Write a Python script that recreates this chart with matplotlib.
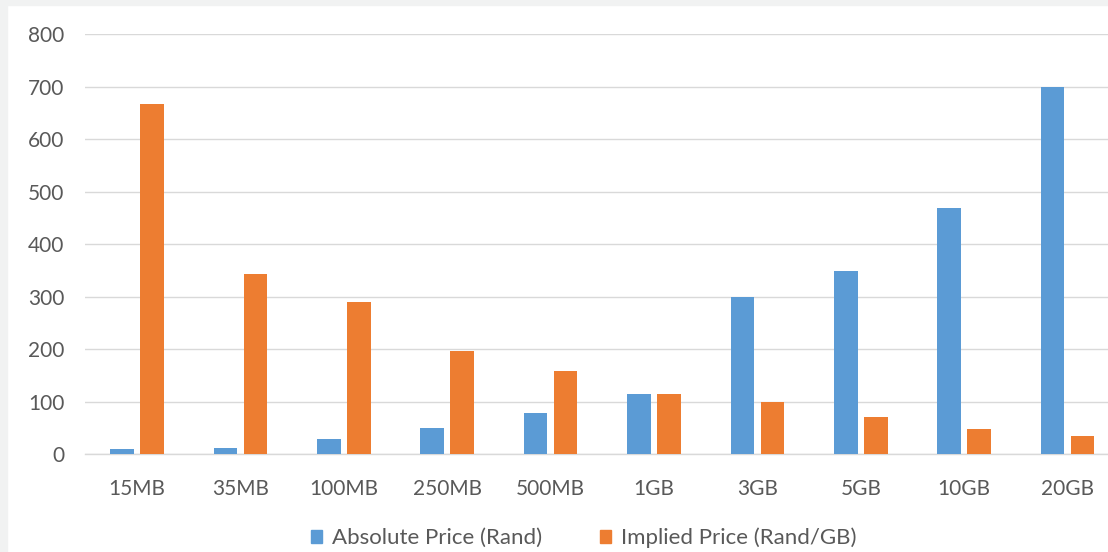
import numpy as np
import matplotlib.pyplot as plt
from matplotlib.patches import Rectangle, Patch

plt.rcParams['font.family'] = ['Lato', 'DejaVu Sans']

# data
bundles = ['15MB', '35MB', '100MB', '250MB', '500MB', '1GB', '3GB', '5GB', '10GB', '20GB']
absolute_price = [10, 12, 29, 49, 79, 115, 299, 349, 469, 699]
implied_price = [667, 343, 290, 196, 158, 115, 100, 70, 47, 35]
yticks = [0, 100, 200, 300, 400, 500, 600, 700, 800]

blue = '#5b9bd5'
orange = '#ed7d31'
grey_text = '#595959'
grid_col = '#d9d9d9'

fig = plt.figure(figsize=(11.08, 5.52), dpi=100, facecolor='white')

# light grey frame on the left and top edges
fig.patches.append(Rectangle((0, 0), 7 / 1108, 1, transform=fig.transFigure,
                             color='#f1f2f2', zorder=0))
fig.patches.append(Rectangle((0, 1 - 5 / 552), 1, 5 / 552, transform=fig.transFigure,
                             color='#f1f2f2', zorder=0))

ax = fig.add_axes([85.3 / 1108, 98 / 552, 1034 / 1108, 419.7 / 552])
ax.set_facecolor('none')

x = np.arange(len(bundles))
w = 0.228
ax.bar(x - 0.145, absolute_price, w, color=blue, zorder=3)
ax.bar(x + 0.145, implied_price, w, color=orange, zorder=3)

ax.set_xlim(-0.5, len(bundles) - 0.5)
ax.set_ylim(0, 800)
ax.set_yticks(yticks)
ax.set_xticks(x)
ax.set_xticklabels(bundles)
ax.grid(axis='y', color=grid_col, linewidth=1.0, zorder=0)
ax.tick_params(axis='both', length=0, labelsize=15, colors=grey_text)
ax.tick_params(axis='y', pad=15)
ax.tick_params(axis='x', pad=18)
for s in ['top', 'right', 'left']:
    ax.spines[s].set_visible(False)
ax.spines['bottom'].set_color(grid_col)
ax.spines['bottom'].set_linewidth(1.0)

handles = [Patch(color=blue, label='Absolute Price (Rand)'),
           Patch(color=orange, label='Implied Price (Rand/GB)')]
fig.legend(handles=handles, loc='center', bbox_to_anchor=(584 / 1108, 1 - 538 / 552),
           ncol=2, frameon=False, fontsize=16, labelcolor=grey_text,
           handlelength=0.5, handleheight=0.5, handletextpad=0.45, columnspacing=2.6)

fig.savefig('out.png', dpi=100, facecolor='white')
